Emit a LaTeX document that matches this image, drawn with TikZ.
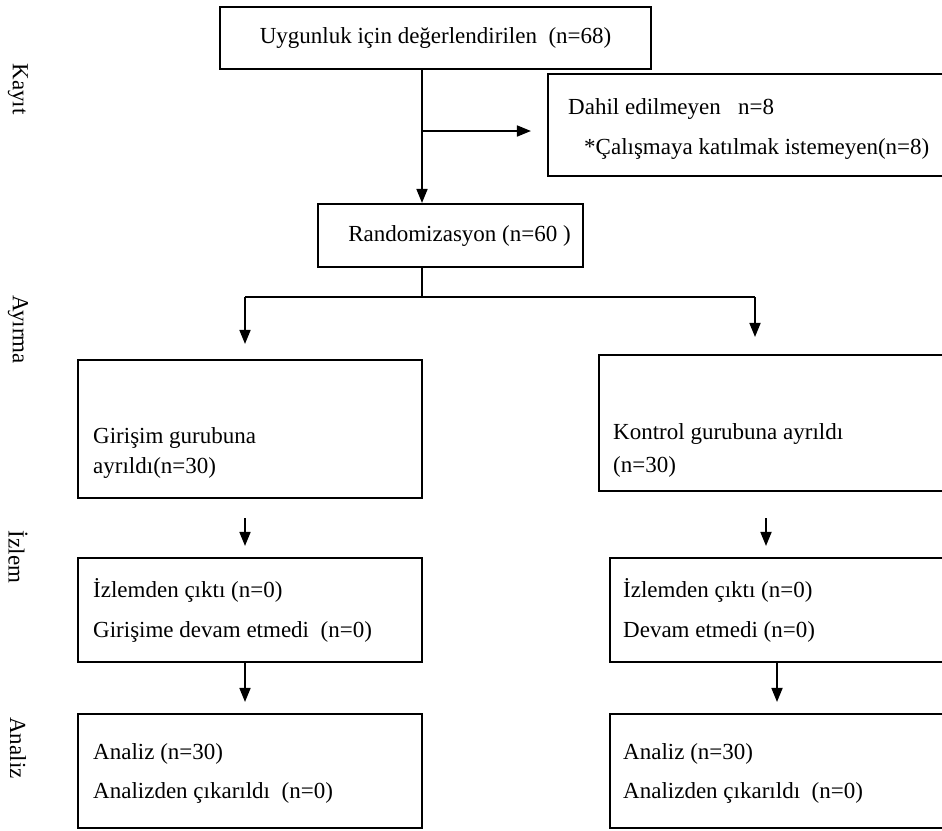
\documentclass[tikz,border=0pt]{standalone}
\usepackage{fontspec}
\setmainfont{Liberation Serif}
\usepackage{tikz}
\usetikzlibrary{positioning}
\usetikzlibrary{arrows.meta}
\tikzstyle{arrow} = [line width=1.7pt,-{Triangle[length=14pt,width=11pt]}]
\tikzstyle{conn} = [line width=1.7pt]
\tikzstyle{box} = [draw,line width=2.1pt,inner sep=0pt]
\tikzstyle{txt} = [inner sep=0pt,anchor=base west]

\begin{document}
\begin{tikzpicture}[x=1pt,y=-1pt,font=\fontsize{23}{28}\selectfont]
			\useasboundingbox (0,0) rectangle (942,830);
			%Stages
			\node[rotate=-90] (kayit) at (18,89) {Kayıt};
			\node[rotate=-90] (ayirma) at (18,330) {Ayırma};
			\node[rotate=-90] (izlem) at (18,557) {İzlem};
			\node[rotate=-90] (analiz) at (18,748) {Analiz};
			
			%Nodes
			\node[box,minimum width=431pt,minimum height=62pt] (elig) at (435.5,38) {Uygunluk için değerlendirilen~ (n=68)};
			\node[box,minimum width=400pt,minimum height=102pt] (excl) at (748,125) {};
			\node[txt] (dahil) at (568,114) {Dahil edilmeyen~~ n=8};
			\node[txt] (neden) at (584,154) {*Çalışmaya katılmak istemeyen(n=8)};
			\node[box,minimum width=265pt,minimum height=63pt] (rand) at (450.5,235.5) {\hspace*{18pt}Randomizasyon (n=60 )};
			
			\node[box,minimum width=344pt,minimum height=138pt] (gir) at (250,429) {};
			\node[txt] (girA) at (93,443) {Girişim gurubuna};
			\node[txt] (girB) at (93,473) {ayrıldı(n=30)};
			\node[box,minimum width=351pt,minimum height=136pt] (kon) at (774.5,423) {};
			\node[txt] (konA) at (613,439) {Kontrol gurubuna ayrıldı};
			\node[txt] (konB) at (613,472) {(n=30)};
			
			\node[box,minimum width=344pt,minimum height=104pt] (izlA) at (250,610) {};
			\node[txt] (izlAa) at (93,597) {İzlemden çıktı (n=0)};
			\node[txt] (izlAb) at (93,637) {Girişime devam etmedi~ (n=0)};
			\node[box,minimum width=340pt,minimum height=104pt] (izlB) at (780,610) {};
			\node[txt] (izlBa) at (623,597) {İzlemden çıktı (n=0)};
			\node[txt] (izlBb) at (623,637) {Devam etmedi (n=0)};
			
			\node[box,minimum width=344pt,minimum height=114pt] (anA) at (250,771) {};
			\node[txt] (anAa) at (93,759) {Analiz (n=30)};
			\node[txt] (anAb) at (93,798) {Analizden çıkarıldı~ (n=0)};
			\node[box,minimum width=340pt,minimum height=114pt] (anB) at (780,771) {};
			\node[txt] (anBa) at (623,759) {Analiz (n=30)};
			\node[txt] (anBb) at (623,798) {Analizden çıkarıldı~ (n=0)};
			
			%Lines
			\coordinate (trunk) at (422,0);
			\coordinate (side) at (422,131);
			\coordinate (fork) at (422,297);
			\coordinate (lbr) at (245,297);
			\coordinate (rbr) at (755,297);
			\coordinate (lcol) at (245,0);
			\coordinate (rcol) at (766,0);
			\coordinate (rcolb) at (777,0);
			\draw[arrow] (elig.south -| trunk) -- (rand.north -| trunk);
			\draw[arrow,shorten >=16pt] (side) -- (side -| excl.west);
			\draw[conn] (rand.south -| trunk) -- (fork);
			\draw[conn] (lbr) -- (rbr);
			\draw[arrow,shorten >=15pt] (lbr) -- (lbr |- gir.north);
			\draw[arrow,shorten >=17pt] (rbr) -- (rbr |- kon.north);
			\draw[arrow,shorten <=19pt,shorten >=11pt] (gir.south -| lcol) -- (izlA.north -| lcol);
			\draw[arrow,shorten <=26pt,shorten >=11pt] (kon.south -| rcol) -- (izlB.north -| rcol);
			\draw[arrow,shorten >=11pt] (izlA.south -| lcol) -- (anA.north -| lcol);
			\draw[arrow,shorten >=11pt] (izlB.south -| rcolb) -- (anB.north -| rcolb);
		\end{tikzpicture}
\end{document}
